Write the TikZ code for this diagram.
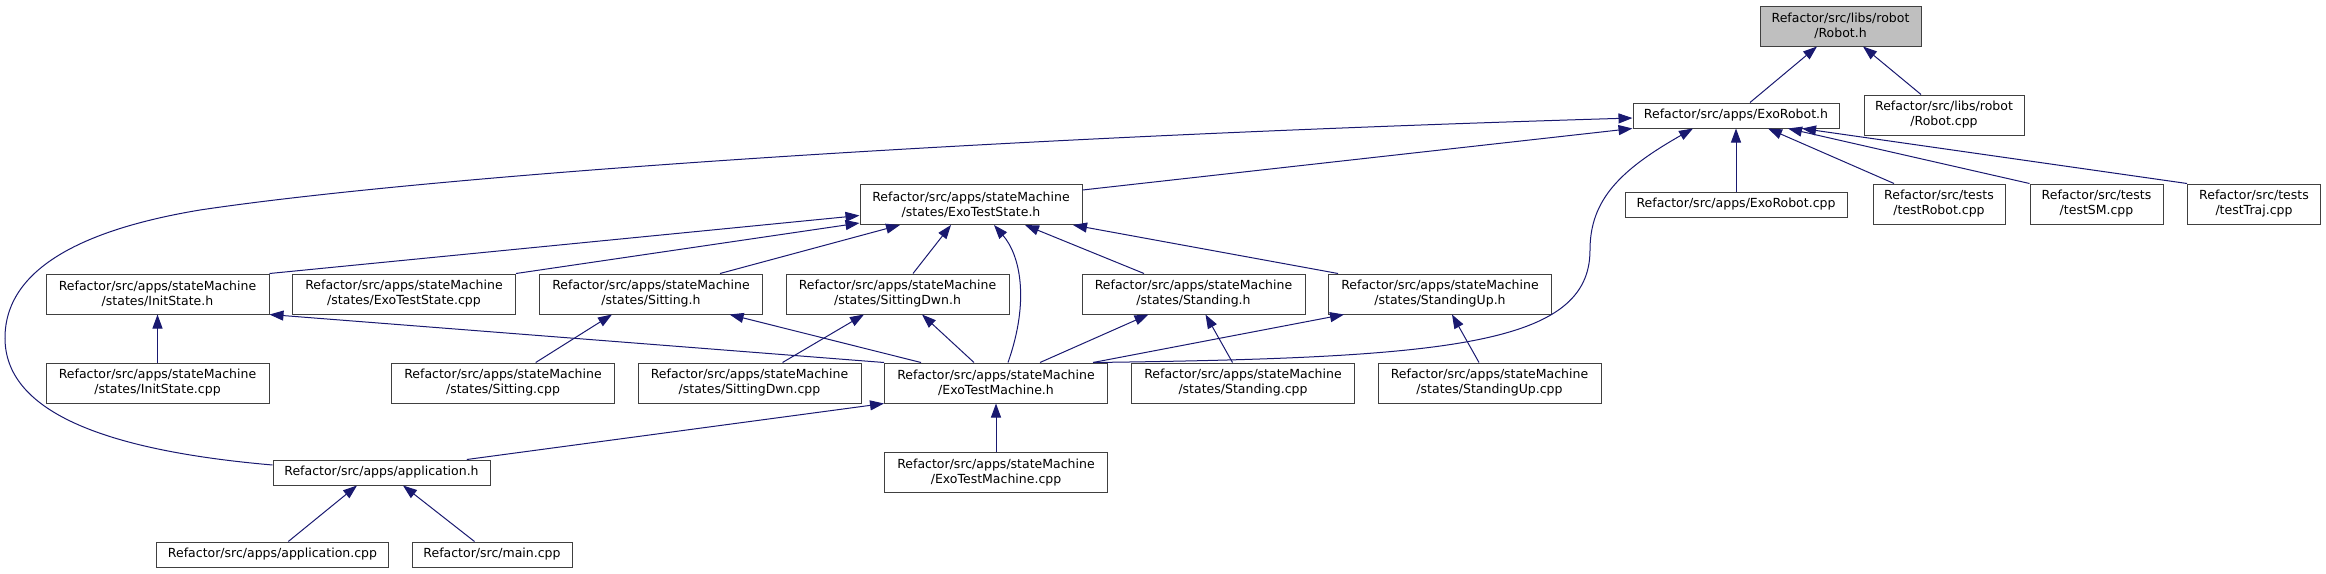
\documentclass[tikz,border=0pt]{standalone}
\usepackage{fontspec}
\setmainfont{DejaVu Sans}
\usepackage{xcolor}
\usepackage{tikz}
\usetikzlibrary{arrows.meta, positioning}
\definecolor{edgeblue}{HTML}{191970}
\definecolor{boxline}{HTML}{404040}
\tikzset{
    depgraph/.style={>={Triangle[length=14pt, width=10pt]}, x=1pt, y=-1pt, line width=1pt, font=\fontsize{12.5}{15}\selectfont},
    file/.style={draw=boxline, fill=white, align=center, inner sep=0pt, minimum height=40pt},
    oneline/.style={file, minimum height=25pt},
    current/.style={file, fill=black!25},
    % include edge: arrow points at the included header
    incl/.style={->, edgeblue},
}

\begin{document}
\begin{tikzpicture}[depgraph]
    \useasboundingbox (0,0) rectangle (2326,573);

    \node[current, minimum width=161pt]  (robot_h)       at (1840.5,26)  {Refactor/src/libs/robot\\/Robot.h};
    \node[oneline, minimum width=206pt]  (exorobot_h)    at (1736,115.5) {Refactor/src/apps/ExoRobot.h};
    \node[file, minimum width=160pt]     (robot_cpp)     at (1944,115)   {Refactor/src/libs/robot\\/Robot.cpp};
    \node[oneline, minimum width=222pt]  (exorobot_cpp)  at (1736,204.5) {Refactor/src/apps/ExoRobot.cpp};
    \node[file, minimum width=132pt]     (testrobot_cpp) at (1939,204)   {Refactor/src/tests\\/testRobot.cpp};
    \node[file, minimum width=133pt]     (testsm_cpp)    at (2096.5,204) {Refactor/src/tests\\/testSM.cpp};
    \node[file, minimum width=133pt]     (testtraj_cpp)  at (2254,204)   {Refactor/src/tests\\/testTraj.cpp};
    \node[file, minimum width=222pt]     (exotest_h)     at (971,204.5)  {Refactor/src/apps/stateMachine\\/states/ExoTestState.h};

    \node[file, minimum width=223pt]     (init_h)        at (157.5,294)  {Refactor/src/apps/stateMachine\\/states/InitState.h};
    \node[file, minimum width=223pt]     (exotest_cpp)   at (404,294)    {Refactor/src/apps/stateMachine\\/states/ExoTestState.cpp};
    \node[file, minimum width=223pt]     (sit_h)         at (651,294)    {Refactor/src/apps/stateMachine\\/states/Sitting.h};
    \node[file, minimum width=223pt]     (sitdwn_h)      at (897.5,294)  {Refactor/src/apps/stateMachine\\/states/SittingDwn.h};
    \node[file, minimum width=223pt]     (stand_h)       at (1193.5,294) {Refactor/src/apps/stateMachine\\/states/Standing.h};
    \node[file, minimum width=223pt]     (standup_h)     at (1440,294)   {Refactor/src/apps/stateMachine\\/states/StandingUp.h};

    \node[file, minimum width=223pt]     (init_cpp)      at (157.5,383)  {Refactor/src/apps/stateMachine\\/states/InitState.cpp};
    \node[file, minimum width=223pt]     (sit_cpp)       at (503,383)    {Refactor/src/apps/stateMachine\\/states/Sitting.cpp};
    \node[file, minimum width=223pt]     (sitdwn_cpp)    at (749.5,383)  {Refactor/src/apps/stateMachine\\/states/SittingDwn.cpp};
    \node[file, minimum width=223pt]     (machine_h)     at (996,383)    {Refactor/src/apps/stateMachine\\/ExoTestMachine.h};
    \node[file, minimum width=223pt]     (stand_cpp)     at (1243,383)   {Refactor/src/apps/stateMachine\\/states/Standing.cpp};
    \node[file, minimum width=223pt]     (standup_cpp)   at (1489.5,383) {Refactor/src/apps/stateMachine\\/states/StandingUp.cpp};

    \node[file, minimum width=223pt]     (machine_cpp)   at (996,472.5)  {Refactor/src/apps/stateMachine\\/ExoTestMachine.cpp};
    \node[oneline, minimum width=217pt]  (app_h)         at (381.5,472.5) {Refactor/src/apps/application.h};
    \node[oneline, minimum width=232pt]  (app_cpp)       at (272.5,554.5) {Refactor/src/apps/application.cpp};
    \node[oneline, minimum width=160pt]  (main_cpp)      at (492,554.5)  {Refactor/src/main.cpp};

    \draw[incl] ([xshift=14pt]exorobot_h.north) -- ([xshift=-23.5pt]robot_h.south);
    \draw[incl] ([xshift=-23pt]robot_cpp.north) -- ([xshift=22.5pt]robot_h.south);
    \draw[incl] (exorobot_cpp) -- (exorobot_h);
    \draw[incl] ([xshift=-45pt]testrobot_cpp.north) -- ([xshift=32pt]exorobot_h.south);
    \draw[incl] (testsm_cpp.north west) -- ([xshift=52pt]exorobot_h.south);
    \draw[incl] (testtraj_cpp.north west) -- ([xshift=66pt]exorobot_h.south);
    \draw[incl] ([yshift=14.5pt]exotest_h.east) -- (exorobot_h.south west);
    \draw[incl] ([yshift=7.5pt]app_h.west) .. controls (100,450) and (5,410) .. (5,338)
        .. controls (5,270) and (80,230) .. (200,210)
        .. controls (400,180) and (900,140) .. ([yshift=-2.5pt]exorobot_h.west);
    \draw[incl] ([xshift=97pt]machine_h.north) .. controls (1450,358) and (1590,345) .. (1590,250)
        .. controls (1590,200) and (1620,170) .. ([xshift=-43pt]exorobot_h.south);

    \draw[incl] (init_h.north east) -- ([yshift=-11pt]exotest_h.west);
    \draw[incl] (exotest_cpp.north east) -- ([yshift=-18.5pt]exotest_h.west);
    \draw[incl] ([xshift=69pt]sit_h.north) -- ([xshift=-71pt]exotest_h.south);
    \draw[incl] ([xshift=15.5pt]sitdwn_h.north) -- ([xshift=-20pt]exotest_h.south);
    \draw[incl] ([xshift=12pt]machine_h.north) .. controls (1030,300) and (1020,255) .. ([xshift=23pt]exotest_h.south);
    \draw[incl] ([xshift=-49.5pt]stand_h.north) -- ([xshift=54pt]exotest_h.south);
    \draw[incl] ([xshift=-102pt]standup_h.north) -- ([xshift=102pt]exotest_h.south);

    \draw[incl] (init_cpp) -- (init_h);
    \draw[incl] ([xshift=32.7pt]sit_cpp.north) -- ([xshift=-39pt]sit_h.south);
    \draw[incl] ([xshift=33pt]sitdwn_cpp.north) -- ([xshift=-33.5pt]sitdwn_h.south);
    \draw[incl] (machine_h.north west) -- (init_h.south east);
    \draw[incl] ([xshift=-75pt]machine_h.north) -- ([xshift=78.6pt]sit_h.south);
    \draw[incl] ([xshift=-22pt]machine_h.north) -- ([xshift=24.5pt]sitdwn_h.south);
    \draw[incl] ([xshift=44pt]machine_h.north) -- ([xshift=-45pt]stand_h.south);
    \draw[incl] ([xshift=-10.5pt]stand_cpp.north) -- ([xshift=12pt]stand_h.south);
    \draw[incl] ([xshift=97pt]machine_h.north) -- ([xshift=-96pt]standup_h.south);
    \draw[incl] ([xshift=-10.5pt]standup_cpp.north) -- ([xshift=12pt]standup_h.south);

    \draw[incl] (machine_cpp) -- (machine_h);
    \draw[incl] ([xshift=85.3pt]app_h.north) -- (machine_h.south west);
    \draw[incl] ([xshift=15.8pt]app_cpp.north) -- ([xshift=-24.5pt]app_h.south);
    \draw[incl] ([xshift=-17.5pt]main_cpp.north) -- ([xshift=21.5pt]app_h.south);
\end{tikzpicture}
\end{document}
